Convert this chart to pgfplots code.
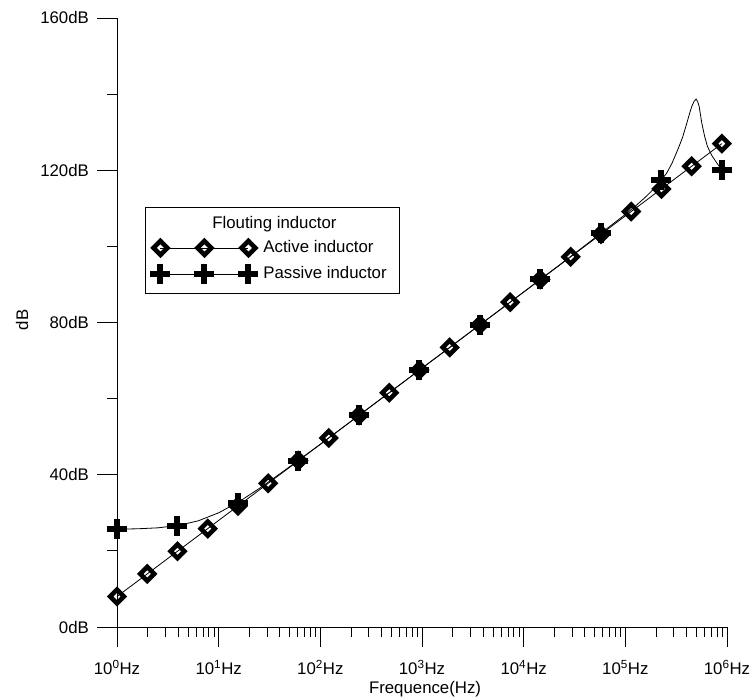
\documentclass[border=0pt]{standalone}
\usepackage{fontspec}
\setmainfont{Liberation Sans}
\usepackage{pgfplots}
\usepackage{pgfplotstable}
\pgfplotsset{compat=1.18}
\pgfplotsset{threemark/.style={legend image code/.code={%
    \draw[black, line width=0.8pt] (0pt,0pt) -- (88pt,0pt);
    \draw[##1, only marks] plot coordinates {(0pt,0pt) (44pt,0pt) (88pt,0pt)};}}}
\pgfplotstableread{
f dB
1 8.0
1.984 13.95
3.936 19.9
7.808 25.85
15.49 31.8
30.73 37.75
60.95 43.7
120.9 49.65
239.9 55.6
475.9 61.55
944.1 67.5
1873 73.45
3715 79.4
7371 85.35
14622 91.3
29007 97.25
57544 103.2
114156 109.15
226464 115.1
449260 121.05
891251 127.0
}\activedata
\pgfplotstableread{
f dB
1 25.7
1.585 25.8
2.512 26.05
3.981 26.66
6.310 27.9
10 30.0
15.85 32.9
25.12 36.4
39.81 40.2
63.10 44.1
100 48.0
158.5 52.0
1000 68.0
10000 88.0
31623 98.1
100000 108.4
125893 110.6
158489 113.0
177828 114.3
199526 115.7
223872 117.3
255859 119.3
288403 121.9
332659 125.8
367282 128.8
402717 132.4
431519 135.2
450817 136.8
474242 138.1
496592 138.7
515229 138.0
532108 136.8
564937 132.4
602560 128.9
641210 126.3
707946 123.9
794328 121.9
891251 120.1
}\passivelinedata
\pgfplotstableread{
f dB
1 25.7
3.936 26.6
15.49 32.7
60.95 43.7
239.9 55.6
944.1 67.5
3715 79.4
14622 91.3
57544 103.4
226464 117.5
891251 120.1
}\passivemarkdata
\begin{document}
\begin{tikzpicture}
\begin{axis}[
  at={(0,0)}, anchor=south west,
  scale only axis, width=610pt, height=609pt,
  xmode=log, xmin=1, xmax=1e6, ymin=0, ymax=160,
  axis x line=bottom, axis y line=left,
  axis line style={-, line width=0.8pt, black},
  tick align=outside, major tick length=20pt, minor tick length=10pt,
  every tick/.style={line width=0.8pt, black},
  xtick={1,10,100,1000,10000,100000,1000000},
  xticklabels={10\textsuperscript{0}Hz,10\textsuperscript{1}Hz,10\textsuperscript{2}Hz,10\textsuperscript{3}Hz,10\textsuperscript{4}Hz,10\textsuperscript{5}Hz,10\textsuperscript{6}Hz},
  minor xtick={2,3,4,5,6,7,8,9,20,30,40,50,60,70,80,90,200,300,400,500,600,700,800,900,2000,3000,4000,5000,6000,7000,8000,9000,20000,30000,40000,50000,60000,70000,80000,90000,200000,300000,400000,500000,600000,700000,800000,900000},
  ytick={0,40,80,120,160},
  yticklabels={0dB,40dB,80dB,120dB,160dB},
  minor ytick={20,60,100,140},
  font=\fontsize{16.8}{20}\selectfont,
  xticklabel style={inner sep=0pt, yshift=-13pt},
  yticklabel style={inner sep=0pt, xshift=-8pt},
  xlabel={Frequence(Hz)}, ylabel={dB},
  xlabel style={at={(axis description cs:0.505,-0.1025)}, anchor=center},
  ylabel style={at={(axis description cs:-0.1557,0.504)}, anchor=center},
  clip=false,
  legend style={at={(rel axis cs:0.0459,0.690)}, anchor=north west,
    draw=black, line width=0.8pt, inner xsep=5pt, inner ysep=9pt,
    font=\fontsize{16.8}{20}\selectfont,
    nodes={inner sep=0pt, text height=12pt, text depth=3.5pt},
    row sep=8.5pt,
    /tikz/every odd column/.style={column sep=5pt}},
  legend cell align=left,
]
\addlegendimage{empty legend}
\addlegendentry{\hspace*{-51pt}Flouting inductor}
\addplot[black, line width=0.8pt, mark=square, mark size=4.9pt,
  mark options={rotate=45, line width=4.6pt, solid, black}, threemark]
  table[x=f, y=dB] {\activedata};
\addlegendentry{Active inductor}
\addplot[black, line width=0.8pt, forget plot] table[x=f, y=dB] {\passivelinedata};
\addplot[black, only marks, mark=+, mark size=10pt,
  mark options={line width=6pt, solid, black}, threemark]
  table[x=f, y=dB] {\passivemarkdata};
\addlegendentry{Passive inductor\hspace*{8pt}}
\end{axis}
\pgfresetboundingbox
\path[use as bounding box] (-117pt,-72pt) rectangle (636pt,627pt);
\end{tikzpicture}
\end{document}
